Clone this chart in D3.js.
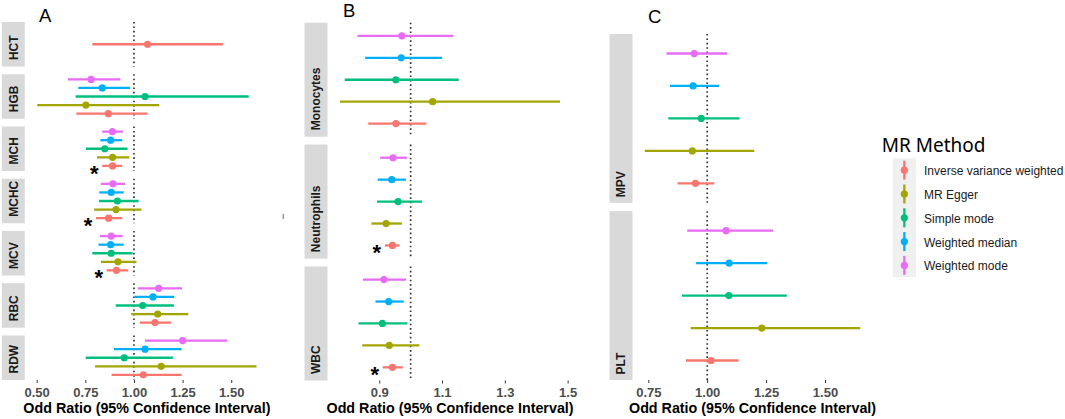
<!DOCTYPE html>
<html>
<head>
<meta charset="utf-8">
<script src="https://cdn.jsdelivr.net/npm/d3@7"></script>
<style>
  body { margin: 0; background: #fff; }
  svg { display: block; }
</style>
</head>
<body>
<div id="chart"></div>
<script>
// methods, in the order of the legend (bottom row of each facet first)
const methods = ["Inverse variance weighted", "MR Egger", "Simple mode", "Weighted median", "Weighted mode"];
const methodColors = ["#F8766D", "#A3A500", "#00BF7D", "#00B0F6", "#E76BF3"];

// panel A : red cell traits. each row = one trait, values follow `methods`
const traitsA = ["HCT", "HGB", "MCH", "MCHC", "MCV", "RBC", "RDW"];
const orA = [
  [1.07, null, null, null, null],
  [0.868, 0.753, 1.057, 0.837, 0.78],
  [0.89, 0.89, 0.85, 0.88, 0.889],
  [0.87, 0.908, 0.915, 0.883, 0.892],
  [0.91, 0.918, 0.883, 0.88, 0.883],
  [1.108, 1.122, 1.045, 1.098, 1.127],
  [1.048, 1.14, 0.95, 1.057, 1.25]
];
const loA = [
  [0.786, null, null, null, null],
  [0.704, 0.503, 0.70, 0.714, 0.66],
  [0.837, 0.81, 0.753, 0.827, 0.837],
  [0.805, 0.795, 0.82, 0.822, 0.83],
  [0.86, 0.83, 0.786, 0.818, 0.825],
  [1.03, 0.986, 0.906, 1.003, 1.02],
  [0.885, 0.80, 0.752, 0.897, 1.057]
];
const hiA = [
  [1.457, null, null, null, null],
  [1.07, 1.13, 1.59, 0.98, 0.93],
  [0.94, 0.976, 0.967, 0.94, 0.943],
  [0.94, 1.038, 1.024, 0.947, 0.954],
  [0.971, 1.013, 0.993, 0.947, 0.942],
  [1.19, 1.279, 1.205, 1.207, 1.247],
  [1.245, 1.63, 1.20, 1.245, 1.48]
];
const sigA = ["MCH", "MCHC", "MCV"];
const ticksA = [0.5, 0.75, 1, 1.25, 1.5];

// panel B : white cell traits
const traitsB = ["Monocytes", "Neutrophils", "WBC"];
const orB = [
  [0.953, 1.07, 0.953, 0.970, 0.972],
  [0.942, 0.922, 0.96, 0.94, 0.944],
  [0.942, 0.932, 0.91, 0.93, 0.915]
];
const loB = [
  [0.865, 0.775, 0.79, 0.855, 0.831],
  [0.918, 0.875, 0.893, 0.895, 0.903],
  [0.911, 0.846, 0.834, 0.888, 0.848]
];
const hiB = [
  [1.05, 1.476, 1.153, 1.10, 1.136],
  [0.965, 0.972, 1.036, 0.985, 0.988],
  [0.975, 1.028, 0.99, 0.978, 0.985]
];
const sigB = ["Neutrophils", "WBC"];
const ticksB = [0.9, 1.1, 1.3, 1.5];

// panel C : platelet traits
const traitsC = ["MPV", "PLT"];
const orC = [
  [0.95, 0.937, 0.975, 0.94, 0.945],
  [1.016, 1.232, 1.092, 1.093, 1.08]
];
const loC = [
  [0.874, 0.735, 0.835, 0.842, 0.827],
  [0.91, 0.93, 0.893, 0.953, 0.915]
];
const hiC = [
  [1.03, 1.20, 1.137, 1.05, 1.085],
  [1.133, 1.65, 1.338, 1.255, 1.28]
];
const sigC = [];
const ticksC = [0.75, 1, 1.25, 1.5];

const W = 1065, H = 419;
const svg = d3.select("#chart").append("svg")
  .attr("width", W)
  .attr("height", H);

function drawPanel(cfg, traits, or, lo, hi, sig, ticks, fmt) {
  const g = svg.append("g");

  // x range like ggplot: data extent plus 5% each side
  const vals = lo.flat().concat(hi.flat()).filter(v => v != null);
  const [mn, mx] = d3.extent(vals);
  const pad = (mx - mn) * 0.05;
  const x = d3.scaleLinear().domain([mn - pad, mx + pad]).range([cfg.left, cfg.right]);

  const n = traits.length;
  const facetH = (cfg.bottom - cfg.top - cfg.gap * (n - 1)) / n;

  traits.forEach((trait, i) => {
    const ft = cfg.top + i * (facetH + cfg.gap);
    const rows = methods.map((m, j) => ({
      method: m, color: methodColors[j], or: or[i][j], lo: lo[i][j], hi: hi[i][j]
    })).filter(d => d.or != null);

    const y = d3.scalePoint()
      .domain(rows.map(d => d.method).reverse())
      .range([ft, ft + facetH])
      .padding(0.6);

    // strip on the left
    g.append("rect")
      .attr("x", cfg.left - 24.5)
      .attr("y", ft)
      .attr("width", 23)
      .attr("height", facetH)
      .attr("fill", "#D9D9D9");
    g.append("text")
      .attr("transform", `translate(${cfg.left - 13 + 4.3},${ft + facetH - cfg.stripPad}) rotate(-90)`)
      .attr("text-anchor", "start")
      .attr("fill", "#1A1A1A")
      .attr("font-family", "Liberation Sans, Arial, sans-serif")
      .attr("font-weight", "bold")
      .attr("font-size", "12px")
      .text(trait);

    // reference line at OR = 1
    g.append("line")
      .attr("x1", x(1)).attr("x2", x(1))
      .attr("y1", ft).attr("y2", ft + facetH)
      .attr("stroke", "#333")
      .attr("stroke-width", 1.7)
      .attr("stroke-dasharray", "1.6,2.8");

    g.selectAll(null)
      .data(rows)
      .enter()
      .append("line")
      .attr("x1", d => x(d.lo))
      .attr("x2", d => x(d.hi))
      .attr("y1", d => y(d.method))
      .attr("y2", d => y(d.method))
      .attr("stroke", d => d.color)
      .attr("stroke-width", 2.3);

    g.selectAll(null)
      .data(rows)
      .enter()
      .append("circle")
      .attr("cx", d => x(d.or))
      .attr("cy", d => y(d.method))
      .attr("r", 3.6)
      .attr("fill", d => d.color);

    if (sig.includes(trait)) {
      const ivw = rows.find(d => d.method === methods[0]);
      g.append("text")
        .attr("x", x(ivw.lo) - 8)
        .attr("y", y(ivw.method) + 2 + 12.8)
        .attr("text-anchor", "middle")
        .attr("font-family", "Liberation Sans, Arial, sans-serif")
        .attr("font-weight", "bold")
        .attr("font-size", "22px")
        .attr("fill", "#000")
        .text("*");
    }
  });

  // x axis
  const axis = g.append("g")
    .attr("transform", `translate(0,${cfg.bottom})`)
    .call(d3.axisBottom(x).tickValues(ticks).tickSize(3).tickPadding(4.3).tickFormat(d3.format(fmt)));
  axis.select(".domain").remove();
  axis.selectAll(".tick line").attr("stroke", "#333");
  axis.selectAll(".tick text")
    .attr("fill", "#4D4D4D")
    .attr("font-family", "Liberation Sans, Arial, sans-serif")
    .attr("font-weight", "bold")
    .attr("font-size", "13px");

  g.append("text")
    .attr("x", (cfg.left + cfg.right) / 2)
    .attr("y", 413.3)
    .attr("text-anchor", "middle")
    .attr("font-family", "Liberation Sans, Arial, sans-serif")
    .attr("font-weight", "bold")
    .attr("font-size", "14.3px")
    .attr("fill", "#000")
    .text("Odd Ratio (95% Confidence Interval)");

  g.append("text")
    .attr("x", cfg.labelX)
    .attr("y", cfg.labelY)
    .attr("font-family", "Liberation Sans, Arial, sans-serif")
    .attr("font-size", "18.5px")
    .attr("fill", "#000")
    .text(cfg.label);
}

drawPanel({ label: "A", labelX: 39, labelY: 21.7, left: 26.3, right: 267.5, top: 22, bottom: 380, gap: 7.7, stripPad: 6.5 },
  traitsA, orA, loA, hiA, sigA, ticksA, ".2f");
drawPanel({ label: "B", labelX: 343, labelY: 16.8, left: 329, right: 571.1, top: 22.7, bottom: 380.5, gap: 7.8, stripPad: 6.5 },
  traitsB, orB, loB, hiB, sigB, ticksB, ".1f");
drawPanel({ label: "C", labelX: 648, labelY: 22.7, left: 634, right: 871.1, top: 34, bottom: 380, gap: 8.3, stripPad: 5.5 },
  traitsC, orC, loC, hiC, sigC, ticksC, ".2f");

// small stray tick left between panels A and B
svg.append("rect")
  .attr("x", 282.6).attr("y", 214)
  .attr("width", 1.3).attr("height", 5)
  .attr("fill", "#8a8a8a");

// legend
const legend = svg.append("g");
legend.append("text")
  .attr("x", 881.7)
  .attr("y", 151.7)
  .attr("font-family", "Noto Sans, sans-serif")
  .attr("font-size", "19px")
  .attr("fill", "#000")
  .text("MR Method");

const keyH = 23.8, keyTop = 158.3, keyX = 892.7, keyW = 23.3;
const keys = legend.selectAll("g.key")
  .data(methods)
  .enter()
  .append("g")
  .attr("class", "key")
  .attr("transform", (d, i) => `translate(0,${keyTop + i * keyH})`);
keys.append("rect")
  .attr("x", keyX).attr("y", 0)
  .attr("width", keyW).attr("height", keyH)
  .attr("fill", "#F0F0F0");
keys.append("line")
  .attr("x1", keyX + keyW / 2).attr("x2", keyX + keyW / 2)
  .attr("y1", 2.4).attr("y2", keyH - 2.4)
  .attr("stroke", (d, i) => methodColors[i])
  .attr("stroke-width", 2.3);
keys.append("circle")
  .attr("cx", keyX + keyW / 2).attr("cy", keyH / 2)
  .attr("r", 3.6)
  .attr("fill", (d, i) => methodColors[i]);
keys.append("text")
  .attr("x", 924)
  .attr("y", keyH / 2 + 5)
  .attr("font-family", "Liberation Sans, Arial, sans-serif")
  .attr("font-size", "12px")
  .attr("fill", "#1A1A1A")
  .text(d => d);
</script>
</body>
</html>
